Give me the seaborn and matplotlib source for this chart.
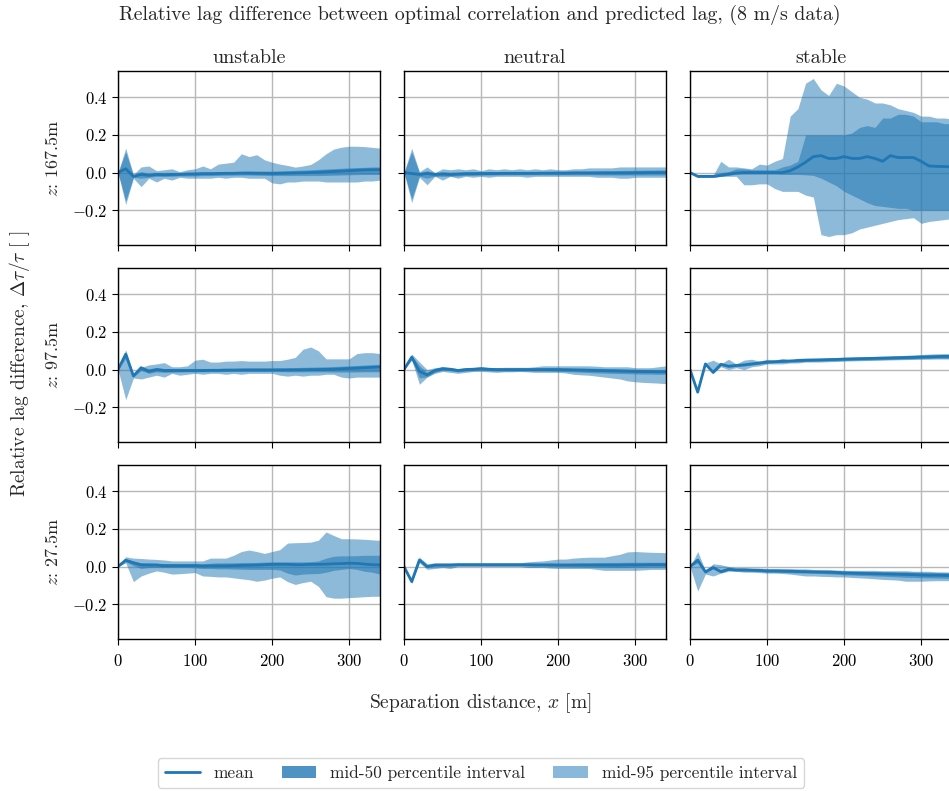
import matplotlib
matplotlib.use("Agg")
import matplotlib.pyplot as plt
from matplotlib.patches import Patch
from matplotlib.lines import Line2D
import numpy as np
import pandas as pd
import seaborn as sns

# Separation distances [m]
x = list(range(0, 350, 10))

stabilities = ["unstable", "neutral", "stable"]
heights = ["167.5", "97.5", "27.5"]

# ---- z = 167.5 m ----
unstable_167_mean = [0, 0.02, -0.02, -0.01, -0.015, -0.01, -0.012, -0.01, -0.01, -0.008, -0.008, -0.006, -0.006, -0.005, -0.004, -0.004, -0.003, -0.003, -0.004, -0.004, -0.005, -0.004, -0.003, -0.002, -0.001, 0, 0.002, 0.004, 0.006, 0.008, 0.01, 0.012, 0.014, 0.015, 0.015]
unstable_167_p50_lo = [0, -0.15, -0.025, -0.03, -0.025, -0.02, -0.02, -0.02, -0.018, -0.018, -0.018, -0.016, -0.016, -0.015, -0.014, -0.014, -0.013, -0.013, -0.014, -0.015, -0.016, -0.016, -0.016, -0.016, -0.016, -0.016, -0.016, -0.015, -0.014, -0.013, -0.012, -0.011, -0.01, -0.01, -0.01]
unstable_167_p50_hi = [0, 0.11, -0.015, 0.005, -0.005, 0.0, -0.002, 0.0, 0.0, 0.002, 0.003, 0.004, 0.004, 0.005, 0.006, 0.006, 0.007, 0.008, 0.008, 0.008, 0.008, 0.009, 0.01, 0.012, 0.013, 0.015, 0.017, 0.019, 0.021, 0.023, 0.025, 0.027, 0.028, 0.03, 0.03]
unstable_167_p95_lo = [0, -0.17, -0.03, -0.075, -0.03, -0.05, -0.03, -0.04, -0.025, -0.03, -0.03, -0.03, -0.03, -0.025, -0.03, -0.025, -0.025, -0.03, -0.03, -0.03, -0.055, -0.06, -0.05, -0.05, -0.045, -0.045, -0.045, -0.05, -0.05, -0.05, -0.05, -0.05, -0.045, -0.045, -0.04]
unstable_167_p95_hi = [0, 0.13, -0.01, 0.03, 0.035, 0.01, 0.015, 0.02, 0.005, 0.015, 0.02, 0.035, 0.02, 0.045, 0.05, 0.055, 0.1, 0.085, 0.095, 0.068, 0.055, 0.045, 0.038, 0.029, 0.035, 0.043, 0.068, 0.1, 0.125, 0.135, 0.14, 0.14, 0.138, 0.134, 0.13]

neutral_167_mean = [0, -0.005, -0.01, -0.005, -0.01, -0.008, -0.01, -0.008, -0.006, -0.006, -0.005, -0.005, -0.005, -0.004, -0.004, -0.004, -0.004, -0.004, -0.003, -0.003, -0.003, -0.003, -0.002, -0.002, -0.002, -0.002, -0.002, -0.002, -0.002, -0.002, -0.001, -0.001, 0, 0, 0]
neutral_167_p50_lo = [0, -0.14, -0.02, -0.03, -0.02, -0.02, -0.02, -0.018, -0.015, -0.015, -0.014, -0.013, -0.013, -0.012, -0.012, -0.012, -0.012, -0.012, -0.012, -0.012, -0.012, -0.012, -0.012, -0.012, -0.012, -0.012, -0.013, -0.013, -0.013, -0.013, -0.013, -0.013, -0.013, -0.013, -0.013]
neutral_167_p50_hi = [0, 0.11, 0.0, 0.01, 0.0, 0.005, 0.002, 0.002, 0.003, 0.004, 0.004, 0.004, 0.005, 0.005, 0.005, 0.005, 0.006, 0.006, 0.006, 0.006, 0.007, 0.007, 0.008, 0.008, 0.008, 0.009, 0.01, 0.01, 0.011, 0.012, 0.012, 0.013, 0.013, 0.014, 0.014]
neutral_167_p95_lo = [0, -0.16, -0.025, -0.065, -0.02, -0.04, -0.02, -0.03, -0.02, -0.025, -0.02, -0.025, -0.02, -0.02, -0.02, -0.02, -0.025, -0.02, -0.02, -0.02, -0.02, -0.02, -0.02, -0.02, -0.02, -0.025, -0.025, -0.025, -0.03, -0.03, -0.025, -0.025, -0.025, -0.025, -0.025]
neutral_167_p95_hi = [0, 0.13, 0.005, 0.03, 0.0, 0.02, 0.015, 0.02, 0.015, 0.02, 0.01, 0.02, 0.015, 0.02, 0.015, 0.02, 0.015, 0.02, 0.015, 0.02, 0.015, 0.015, 0.02, 0.02, 0.025, 0.025, 0.025, 0.025, 0.03, 0.03, 0.03, 0.03, 0.03, 0.03, 0.03]

stable_167_mean = [0, -0.02, -0.02, -0.02, -0.015, -0.008, -0.003, 0, 0, 0, 0, 0, 0, 0.01, 0.03, 0.055, 0.085, 0.09, 0.075, 0.075, 0.085, 0.075, 0.075, 0.085, 0.075, 0.06, 0.09, 0.08, 0.08, 0.08, 0.06, 0.035, 0.033, 0.032, 0.03]
stable_167_p50_lo = [0, -0.025, -0.025, -0.025, -0.02, -0.015, -0.008, -0.008, -0.008, -0.008, -0.008, -0.008, -0.01, -0.01, -0.01, -0.012, -0.015, -0.03, -0.05, -0.07, -0.1, -0.12, -0.14, -0.16, -0.175, -0.18, -0.185, -0.19, -0.19, -0.2, -0.2, -0.2, -0.2, -0.2, -0.2]
stable_167_p50_hi = [0, -0.015, -0.015, -0.015, 0.0, 0.005, 0.02, 0.02, 0.015, 0.015, 0.015, 0.015, 0.03, 0.04, 0.06, 0.2, 0.2, 0.2, 0.2, 0.2, 0.2, 0.21, 0.24, 0.25, 0.24, 0.29, 0.29, 0.31, 0.31, 0.3, 0.27, 0.27, 0.27, 0.26, 0.26]
stable_167_p95_lo = [0, -0.025, -0.025, -0.025, -0.02, -0.02, -0.02, -0.065, -0.065, -0.06, -0.06, -0.085, -0.1, -0.1, -0.1, -0.12, -0.13, -0.33, -0.34, -0.33, -0.33, -0.32, -0.3, -0.29, -0.28, -0.27, -0.26, -0.25, -0.245, -0.24, -0.27, -0.26, -0.255, -0.25, -0.245]
stable_167_p95_hi = [0, -0.015, -0.015, -0.015, 0.06, 0.03, 0.03, 0.025, 0.02, 0.045, 0.04, 0.06, 0.075, 0.3, 0.34, 0.475, 0.5, 0.44, 0.41, 0.475, 0.46, 0.43, 0.4, 0.39, 0.37, 0.37, 0.36, 0.34, 0.33, 0.32, 0.3, 0.3, 0.29, 0.29, 0.285]

# ---- z = 97.5 m ----
unstable_97_mean = [0, 0.082, -0.034, 0.01, -0.01, 0.0, -0.005, -0.005, -0.005, -0.005, -0.005, -0.005, -0.004, -0.004, -0.003, -0.003, -0.002, -0.002, -0.002, -0.002, -0.002, -0.002, -0.002, -0.002, -0.001, 0, 0, 0.001, 0.002, 0.004, 0.006, 0.008, 0.01, 0.012, 0.014]
unstable_97_p50_lo = [0, 0.06, -0.04, -0.005, -0.02, -0.012, -0.015, -0.014, -0.013, -0.012, -0.012, -0.012, -0.011, -0.011, -0.01, -0.01, -0.01, -0.01, -0.01, -0.01, -0.01, -0.011, -0.012, -0.012, -0.012, -0.012, -0.012, -0.012, -0.013, -0.013, -0.013, -0.013, -0.012, -0.012, -0.012]
unstable_97_p50_hi = [0, 0.095, -0.025, 0.015, 0.005, 0.01, 0.006, 0.006, 0.006, 0.006, 0.006, 0.006, 0.006, 0.006, 0.007, 0.007, 0.007, 0.008, 0.008, 0.008, 0.008, 0.009, 0.01, 0.011, 0.012, 0.013, 0.014, 0.015, 0.016, 0.018, 0.02, 0.022, 0.024, 0.026, 0.028]
unstable_97_p95_lo = [0, -0.16, -0.045, -0.05, -0.04, -0.03, -0.04, -0.02, -0.03, -0.025, -0.02, -0.025, -0.02, -0.02, -0.025, -0.02, -0.025, -0.02, -0.02, -0.02, -0.02, -0.03, -0.035, -0.03, -0.035, -0.03, -0.03, -0.025, -0.025, -0.04, -0.045, -0.04, -0.04, -0.04, -0.04]
unstable_97_p95_hi = [0, 0.105, -0.025, 0.012, 0.025, 0.03, 0.037, 0.015, 0.015, 0.02, 0.05, 0.055, 0.04, 0.04, 0.045, 0.045, 0.048, 0.045, 0.045, 0.045, 0.048, 0.048, 0.055, 0.065, 0.108, 0.12, 0.1, 0.057, 0.057, 0.057, 0.057, 0.085, 0.09, 0.09, 0.085]

neutral_97_mean = [0, 0.066, -0.01, -0.028, -0.005, 0.005, 0.002, -0.005, 0, 0.002, 0.005, 0.002, 0.0, 0.0, 0.0, 0.0, 0.0, 0.0, 0.0, 0.0, 0.0, -0.001, -0.002, -0.003, -0.004, -0.005, -0.006, -0.007, -0.008, -0.009, -0.01, -0.011, -0.011, -0.012, -0.012]
neutral_97_p50_lo = [0, 0.055, -0.045, -0.038, -0.015, -0.003, -0.006, -0.012, -0.008, -0.006, -0.003, -0.006, -0.008, -0.008, -0.008, -0.008, -0.008, -0.008, -0.008, -0.009, -0.01, -0.011, -0.012, -0.014, -0.016, -0.018, -0.019, -0.02, -0.021, -0.022, -0.023, -0.024, -0.024, -0.025, -0.025]
neutral_97_p50_hi = [0, 0.075, 0.02, -0.015, 0.005, 0.012, 0.01, 0.003, 0.007, 0.009, 0.012, 0.009, 0.008, 0.008, 0.008, 0.008, 0.008, 0.009, 0.009, 0.009, 0.009, 0.009, 0.008, 0.008, 0.008, 0.007, 0.006, 0.005, 0.004, 0.003, 0.002, 0.001, 0.001, 0.0, 0.0]
neutral_97_p95_lo = [0, 0.05, -0.078, -0.04, -0.02, -0.01, -0.015, -0.02, -0.015, -0.01, -0.01, -0.012, -0.015, -0.012, -0.012, -0.01, -0.012, -0.015, -0.015, -0.015, -0.015, -0.018, -0.025, -0.028, -0.03, -0.035, -0.04, -0.045, -0.05, -0.06, -0.065, -0.068, -0.07, -0.072, -0.075]
neutral_97_p95_hi = [0, 0.083, 0.04, 0.0, 0.01, 0.015, 0.01, 0.005, 0.01, 0.01, 0.015, 0.01, 0.01, 0.012, 0.012, 0.012, 0.012, 0.015, 0.02, 0.02, 0.02, 0.02, 0.02, 0.02, 0.02, 0.018, 0.015, 0.015, 0.015, 0.015, 0.01, 0.01, 0.01, 0.015, 0.02]

stable_97_mean = [0, -0.12, 0.03, -0.015, 0.028, 0.018, 0.022, 0.025, 0.03, 0.035, 0.04, 0.042, 0.044, 0.046, 0.048, 0.05, 0.051, 0.052, 0.053, 0.054, 0.056, 0.057, 0.058, 0.059, 0.06, 0.061, 0.062, 0.063, 0.064, 0.065, 0.067, 0.068, 0.069, 0.07, 0.07]
stable_97_p50_lo = [0, -0.12, 0.027, -0.02, 0.022, 0.012, 0.016, 0.019, 0.024, 0.029, 0.034, 0.036, 0.038, 0.04, 0.041, 0.043, 0.044, 0.045, 0.046, 0.047, 0.048, 0.049, 0.05, 0.051, 0.052, 0.053, 0.054, 0.055, 0.056, 0.057, 0.058, 0.059, 0.06, 0.06, 0.06]
stable_97_p50_hi = [0, -0.12, 0.033, -0.01, 0.034, 0.024, 0.028, 0.031, 0.036, 0.041, 0.046, 0.048, 0.05, 0.052, 0.055, 0.057, 0.058, 0.059, 0.06, 0.061, 0.063, 0.064, 0.065, 0.066, 0.067, 0.068, 0.07, 0.071, 0.072, 0.073, 0.075, 0.076, 0.077, 0.078, 0.079]
stable_97_p95_lo = [0, -0.12, 0.025, -0.02, 0.015, 0.0, 0.01, 0.0, 0.015, 0.02, 0.03, 0.03, 0.03, 0.035, 0.035, 0.04, 0.04, 0.04, 0.042, 0.043, 0.045, 0.046, 0.047, 0.048, 0.049, 0.05, 0.051, 0.052, 0.053, 0.054, 0.055, 0.055, 0.056, 0.056, 0.056]
stable_97_p95_hi = [0, -0.12, 0.035, 0.05, 0.03, 0.055, 0.03, 0.05, 0.055, 0.045, 0.055, 0.05, 0.06, 0.05, 0.06, 0.06, 0.06, 0.06, 0.062, 0.063, 0.065, 0.066, 0.067, 0.068, 0.07, 0.071, 0.072, 0.074, 0.076, 0.078, 0.08, 0.082, 0.084, 0.085, 0.085]

# ---- z = 27.5 m ----
unstable_27_mean = [0, 0.034, 0.02, 0.009, 0.008, 0.008, 0.005, 0.005, 0.005, 0.005, 0.005, 0.003, 0.004, 0.004, 0.004, 0.005, 0.006, 0.007, 0.008, 0.01, 0.012, 0.012, 0.012, 0.01, 0.01, 0.012, 0.012, 0.013, 0.015, 0.016, 0.018, 0.017, 0.013, 0.01, 0.009]
unstable_27_p50_lo = [0, 0.025, 0.005, -0.01, -0.005, -0.005, -0.005, -0.005, -0.005, -0.005, -0.007, -0.01, -0.01, -0.012, -0.012, -0.013, -0.014, -0.015, -0.015, -0.015, -0.015, -0.018, -0.035, -0.045, -0.04, -0.038, -0.037, -0.03, -0.02, -0.015, -0.01, -0.015, -0.025, -0.03, -0.04]
unstable_27_p50_hi = [0, 0.04, 0.03, 0.02, 0.02, 0.018, 0.015, 0.015, 0.015, 0.015, 0.015, 0.015, 0.018, 0.02, 0.02, 0.02, 0.022, 0.022, 0.022, 0.024, 0.025, 0.025, 0.025, 0.025, 0.025, 0.026, 0.03, 0.045, 0.055, 0.057, 0.057, 0.058, 0.06, 0.06, 0.06]
unstable_27_p95_lo = [0, 0.02, -0.08, -0.05, -0.035, -0.023, -0.03, -0.04, -0.038, -0.035, -0.032, -0.05, -0.052, -0.055, -0.055, -0.06, -0.065, -0.07, -0.078, -0.072, -0.062, -0.055, -0.08, -0.095, -0.085, -0.078, -0.105, -0.16, -0.168, -0.168, -0.165, -0.163, -0.16, -0.158, -0.158]
unstable_27_p95_hi = [0, 0.052, 0.045, 0.043, 0.04, 0.038, 0.035, 0.03, 0.03, 0.03, 0.03, 0.03, 0.045, 0.045, 0.045, 0.06, 0.08, 0.088, 0.08, 0.07, 0.08, 0.09, 0.125, 0.127, 0.128, 0.13, 0.14, 0.184, 0.165, 0.148, 0.148, 0.147, 0.145, 0.142, 0.14]

neutral_27_mean = [0, -0.08, 0.035, 0.0, 0.008, 0.008, 0.008, 0.01, 0.01, 0.01, 0.01, 0.01, 0.01, 0.01, 0.01, 0.01, 0.01, 0.009, 0.009, 0.009, 0.008, 0.008, 0.008, 0.008, 0.008, 0.008, 0.008, 0.008, 0.008, 0.009, 0.009, 0.009, 0.01, 0.01, 0.01]
neutral_27_p50_lo = [0, -0.085, 0.03, -0.006, 0.002, 0.003, 0.003, 0.005, 0.005, 0.005, 0.005, 0.004, 0.004, 0.004, 0.004, 0.004, 0.003, 0.002, 0.002, 0.001, 0.0, 0.0, -0.001, -0.002, -0.003, -0.004, -0.004, -0.005, -0.005, -0.005, -0.004, -0.004, -0.003, -0.003, -0.003]
neutral_27_p50_hi = [0, -0.075, 0.04, 0.006, 0.013, 0.013, 0.013, 0.015, 0.015, 0.015, 0.015, 0.016, 0.016, 0.016, 0.016, 0.016, 0.017, 0.017, 0.017, 0.018, 0.018, 0.018, 0.019, 0.02, 0.02, 0.021, 0.021, 0.022, 0.022, 0.023, 0.023, 0.023, 0.023, 0.023, 0.023]
neutral_27_p95_lo = [0, -0.09, 0.02, -0.015, -0.01, -0.005, -0.01, 0.0, 0.0, 0.0, 0.0, 0.0, 0.0, 0.0, 0.0, 0.0, -0.005, -0.005, -0.005, -0.008, -0.01, -0.01, -0.01, -0.01, -0.01, -0.015, -0.02, -0.02, -0.02, -0.02, -0.02, -0.018, -0.015, -0.015, -0.015]
neutral_27_p95_hi = [0, -0.065, 0.05, 0.015, 0.02, 0.02, 0.02, 0.02, 0.02, 0.02, 0.02, 0.02, 0.02, 0.02, 0.02, 0.02, 0.025, 0.028, 0.03, 0.035, 0.04, 0.04, 0.045, 0.048, 0.05, 0.05, 0.05, 0.058, 0.065, 0.078, 0.08, 0.078, 0.076, 0.075, 0.074]

stable_27_mean = [0, 0.034, -0.028, -0.005, -0.027, -0.014, -0.018, -0.018, -0.019, -0.02, -0.023, -0.023, -0.024, -0.025, -0.026, -0.027, -0.028, -0.029, -0.03, -0.031, -0.034, -0.035, -0.036, -0.037, -0.038, -0.039, -0.04, -0.041, -0.042, -0.043, -0.045, -0.046, -0.046, -0.047, -0.048]
stable_27_p50_lo = [0, 0.02, -0.035, -0.012, -0.033, -0.02, -0.024, -0.024, -0.025, -0.027, -0.03, -0.03, -0.031, -0.033, -0.034, -0.035, -0.036, -0.037, -0.039, -0.041, -0.044, -0.045, -0.047, -0.048, -0.05, -0.051, -0.053, -0.055, -0.057, -0.058, -0.059, -0.06, -0.061, -0.062, -0.063]
stable_27_p50_hi = [0, 0.045, -0.022, 0.002, -0.021, -0.008, -0.012, -0.012, -0.013, -0.013, -0.016, -0.016, -0.017, -0.017, -0.018, -0.019, -0.02, -0.021, -0.021, -0.022, -0.024, -0.025, -0.025, -0.026, -0.026, -0.027, -0.027, -0.028, -0.028, -0.029, -0.03, -0.031, -0.031, -0.032, -0.032]
stable_27_p95_lo = [0, -0.13, -0.04, -0.05, -0.035, -0.025, -0.025, -0.03, -0.03, -0.032, -0.035, -0.035, -0.037, -0.04, -0.045, -0.05, -0.05, -0.052, -0.053, -0.055, -0.055, -0.058, -0.06, -0.062, -0.065, -0.068, -0.07, -0.072, -0.078, -0.078, -0.078, -0.076, -0.075, -0.075, -0.075]
stable_27_p95_hi = [0, 0.08, -0.02, 0.015, 0.01, 0.0, -0.005, -0.005, -0.008, -0.008, -0.01, -0.01, -0.01, -0.01, -0.012, -0.012, -0.015, -0.015, -0.015, -0.018, -0.02, -0.02, -0.02, -0.02, -0.02, -0.022, -0.022, -0.022, -0.022, -0.025, -0.025, -0.025, -0.028, -0.028, -0.03]

series = {
    ("167.5", "unstable"): (unstable_167_mean, unstable_167_p50_lo, unstable_167_p50_hi, unstable_167_p95_lo, unstable_167_p95_hi),
    ("167.5", "neutral"): (neutral_167_mean, neutral_167_p50_lo, neutral_167_p50_hi, neutral_167_p95_lo, neutral_167_p95_hi),
    ("167.5", "stable"): (stable_167_mean, stable_167_p50_lo, stable_167_p50_hi, stable_167_p95_lo, stable_167_p95_hi),
    ("97.5", "unstable"): (unstable_97_mean, unstable_97_p50_lo, unstable_97_p50_hi, unstable_97_p95_lo, unstable_97_p95_hi),
    ("97.5", "neutral"): (neutral_97_mean, neutral_97_p50_lo, neutral_97_p50_hi, neutral_97_p95_lo, neutral_97_p95_hi),
    ("97.5", "stable"): (stable_97_mean, stable_97_p50_lo, stable_97_p50_hi, stable_97_p95_lo, stable_97_p95_hi),
    ("27.5", "unstable"): (unstable_27_mean, unstable_27_p50_lo, unstable_27_p50_hi, unstable_27_p95_lo, unstable_27_p95_hi),
    ("27.5", "neutral"): (neutral_27_mean, neutral_27_p50_lo, neutral_27_p50_hi, neutral_27_p95_lo, neutral_27_p95_hi),
    ("27.5", "stable"): (stable_27_mean, stable_27_p50_lo, stable_27_p50_hi, stable_27_p95_lo, stable_27_p95_hi),
}

frames = []
for (h, s), (m, l50, h50, l95, h95) in series.items():
    frames.append(pd.DataFrame({
        "x": x, "height": h, "stability": s,
        "mean": m, "p50_lo": l50, "p50_hi": h50, "p95_lo": l95, "p95_hi": h95,
    }))
df = pd.concat(frames, ignore_index=True)

# ---- style ----
sns.set_style("ticks", {"axes.grid": True})
plt.rcParams.update({
    "font.family": ["cmr10"],
    "mathtext.fontset": "cm",
    "axes.formatter.use_mathtext": True,
    "axes.unicode_minus": False,
    "axes.edgecolor": "black",
    "axes.linewidth": 1.0,
    "grid.color": "#b8b8b8",
    "grid.linewidth": 1.0,
    "xtick.color": "black",
    "ytick.color": "black",
    "xtick.labelsize": 12,
    "ytick.labelsize": 12,
    "xtick.major.size": 4,
    "ytick.major.size": 4,
    "xtick.major.pad": 6,
})

BLUE = "#1f77b4"
LIGHT = "#8ab8da"
DARK = "#4f93c4"


def draw_panel(data, **kws):
    ax = plt.gca()
    ax.fill_between(data["x"], data["p95_lo"], data["p95_hi"], color=BLUE, alpha=0.5, lw=0)
    ax.fill_between(data["x"], data["p50_lo"], data["p50_hi"], color=BLUE, alpha=0.55, lw=0)
    sns.lineplot(data=data, x="x", y="mean", ax=ax, color=BLUE, lw=2)


g = sns.FacetGrid(df, row="height", col="stability", row_order=heights,
                  col_order=stabilities, sharex=True, sharey=True,
                  despine=False, margin_titles=False, height=2.5, aspect=1.3)
g.map_dataframe(draw_panel)

fig = g.figure
fig.set_size_inches(9.49, 7.91)
fig.set_dpi(100)

W, H = 949.0, 791.0
col_left = [118, 404, 690]
row_top = [71, 268, 465]
ax_w, ax_h = 262, 174

for i, h in enumerate(heights):
    for j, s in enumerate(stabilities):
        ax = g.axes[i, j]
        ax.set_position([col_left[j] / W, 1 - (row_top[i] + ax_h) / H, ax_w / W, ax_h / H])
        ax.set_xlim(0, 340)
        ax.set_ylim(-0.385, 0.54)
        ax.set_xticks([0, 100, 200, 300])
        ax.set_yticks([-0.2, 0.0, 0.2, 0.4])
        ax.set_title("")
        ax.set_xlabel("")
        ax.set_ylabel("")
        ax.grid(True)
        for sp in ax.spines.values():
            sp.set_visible(True)
            sp.set_color("black")
        if i == 0:
            ax.set_title(s, fontsize=14.5, pad=6)
        if j == 0:
            ax.set_ylabel(f"$z$: {h}m", fontsize=13, labelpad=8)

fig.text(0.506, 1 - 15 / H, "Relative lag difference between optimal correlation and predicted lag, (8 m/s data)",
         ha="center", va="center", fontsize=14.3)
fig.text(0.506, 1 - 703 / H, "Separation distance, $x$ [m]", ha="center", va="center", fontsize=14)
fig.text(0.021, 1 - 364 / H, r"Relative lag difference, $\Delta\tau/\tau$ [ ]", ha="center", va="center",
         rotation=90, fontsize=14)

handles = [
    Line2D([0], [0], color=BLUE, lw=2),
    Patch(facecolor=DARK, edgecolor="none"),
    Patch(facecolor=LIGHT, edgecolor="none"),
]
labels = ["mean", "mid-50 percentile interval", "mid-95 percentile interval"]
fig.legend(handles, labels, loc="center", bbox_to_anchor=(481 / W, 1 - 773 / H), ncol=3,
           fontsize=12.5, frameon=True, columnspacing=1.6)

fig.savefig("out.png", dpi=100)
